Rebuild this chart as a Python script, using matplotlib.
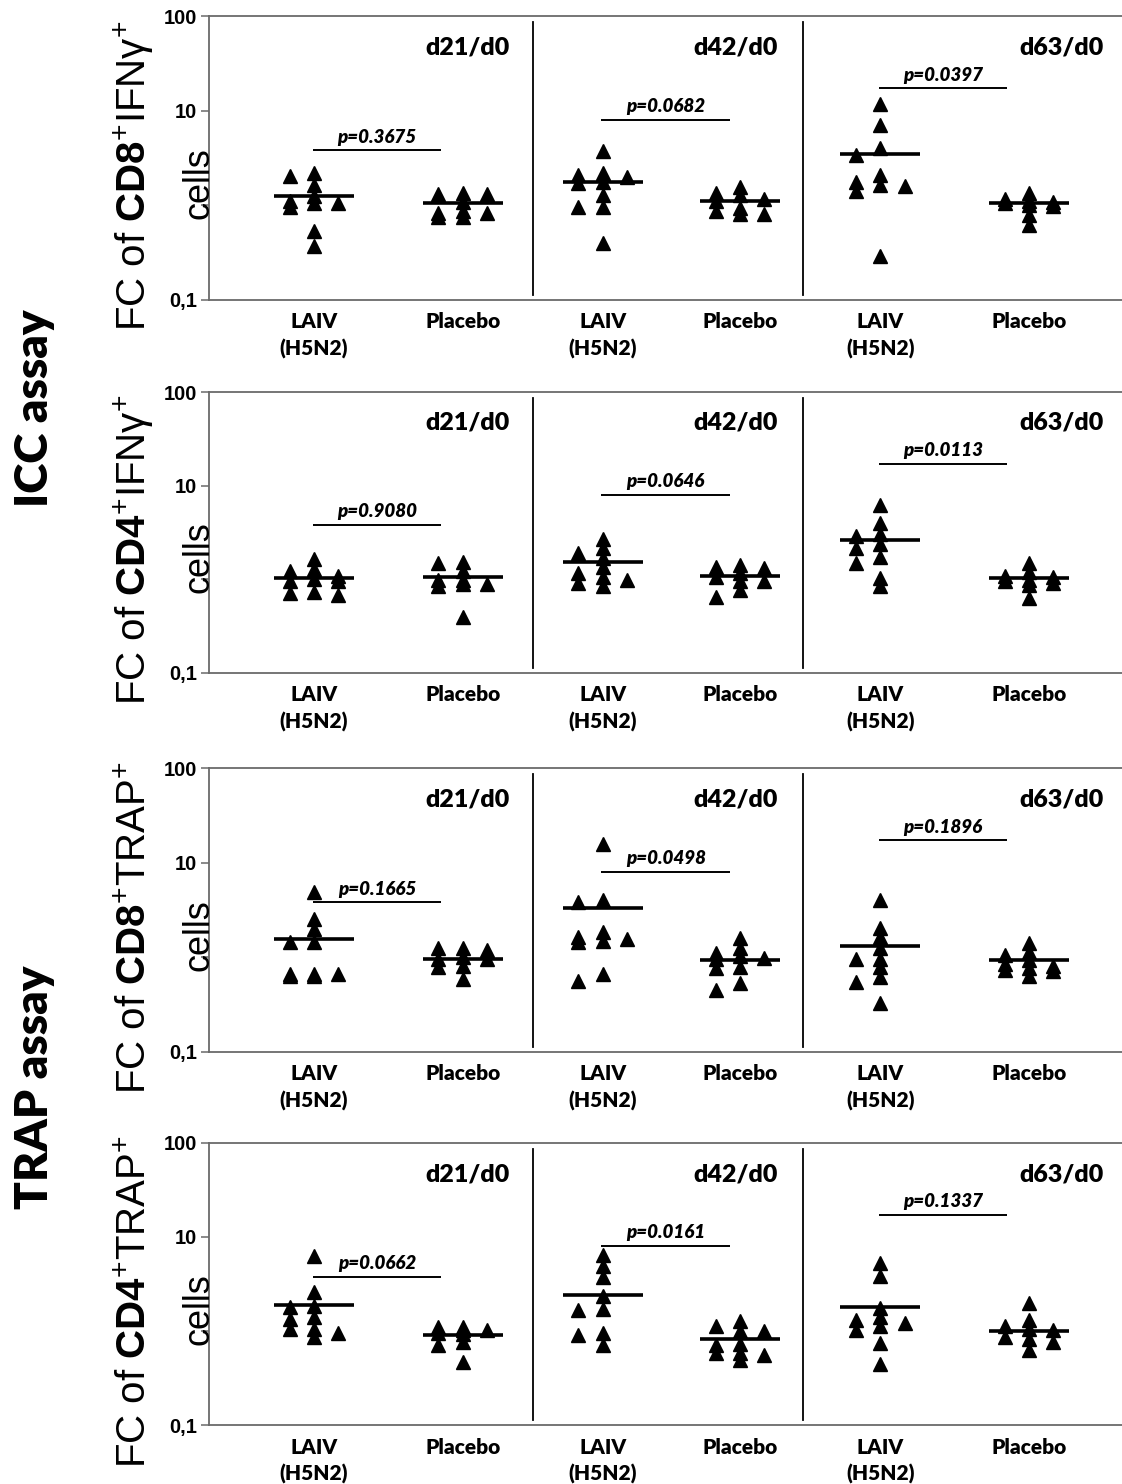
import numpy as np
import matplotlib
matplotlib.use("Agg")
import matplotlib.pyplot as plt
from matplotlib.ticker import NullLocator

plt.rcParams["mathtext.fontset"] = "custom"
plt.rcParams["mathtext.rm"] = "Liberation Sans"
plt.rcParams["mathtext.bf"] = "Liberation Sans:bold"
plt.rcParams["mathtext.it"] = "Liberation Sans:italic"

# ---- data (fold change) ----
GROUPS = ["LAIV\n(H5N2)", "Placebo"] * 3
SECTIONS = ["d21/d0", "d42/d0", "d63/d0"]

# order of groups: d21 LAIV, d21 Placebo, d42 LAIV, d42 Placebo, d63 LAIV, d63 Placebo
CD8_IFNG = [
    [2.21, 2.04, 1.64, 1.24, 1.11, 1.07, 1.05, 0.97, 0.53, 0.37],
    [1.34, 1.32, 1.31, 1.09, 0.88, 0.82, 0.82, 0.75, 0.75],
    [3.78, 2.21, 2.09, 2.01, 1.78, 1.71, 1.29, 0.95, 0.95, 0.40],
    [1.55, 1.34, 1.29, 1.16, 1.11, 0.93, 0.88, 0.81, 0.81],
    [11.9, 7.06, 4.0, 3.40, 2.09, 1.78, 1.64, 1.60, 1.43, 0.29],
    [1.36, 1.16, 1.12, 1.09, 1.06, 1.0, 0.98, 0.80, 0.62],
]
CD8_IFNG_MEAN = [1.24, 1.07, 1.78, 1.11, 3.48, 1.07]
CD8_IFNG_P = ["0.3675", "0.0682", "0.0397"]

CD4_IFNG = [
    [1.65, 1.28, 1.24, 1.09, 1.0, 0.95, 0.95, 0.73, 0.71, 0.68],
    [1.55, 1.49, 1.24, 0.99, 0.99, 0.90, 0.90, 0.84, 0.40],
    [2.67, 2.18, 1.90, 1.68, 1.35, 1.18, 1.07, 0.99, 0.92, 0.84],
    [1.43, 1.35, 1.31, 1.16, 1.05, 0.95, 0.95, 0.76, 0.65],
    [6.21, 4.03, 3.05, 2.90, 2.39, 2.18, 1.72, 1.49, 1.03, 0.84],
    [1.51, 1.21, 1.09, 1.07, 0.99, 0.95, 0.91, 0.87, 0.63],
]
CD4_IFNG_MEAN = [1.03, 1.05, 1.52, 1.09, 2.63, 1.03]
CD4_IFNG_P = ["0.9080", "0.0646", "0.0113"]

CD8_TRAP = [
    [4.86, 2.54, 1.99, 1.44, 1.44, 0.67, 0.67, 0.67, 0.64, 0.64],
    [1.24, 1.24, 1.19, 1.01, 0.97, 0.96, 0.81, 0.79, 0.59],
    [15.7, 4.04, 3.87, 1.86, 1.65, 1.58, 1.47, 1.44, 0.66, 0.56],
    [1.61, 1.26, 1.12, 1.03, 0.99, 0.97, 0.79, 0.77, 0.53, 0.45],
    [4.04, 2.06, 1.65, 1.26, 0.97, 0.97, 0.79, 0.62, 0.55, 0.33],
    [1.43, 1.13, 1.07, 0.93, 0.86, 0.81, 0.77, 0.74, 0.71, 0.64],
]
CD8_TRAP_MEAN = [1.58, 0.96, 3.29, 0.93, 1.32, 0.93]
CD8_TRAP_P = ["0.1665", "0.0498", "0.1896"]

CD4_TRAP = [
    [6.21, 2.59, 1.85, 1.82, 1.40, 1.33, 1.04, 1.04, 0.95, 0.87],
    [1.10, 1.10, 1.03, 1.03, 0.95, 0.93, 0.77, 0.71, 0.47],
    [6.47, 4.86, 3.80, 2.37, 1.71, 1.66, 0.95, 0.91, 0.71],
    [1.29, 1.12, 0.99, 0.99, 0.73, 0.71, 0.59, 0.59, 0.55, 0.49],
    [5.27, 3.87, 1.75, 1.40, 1.32, 1.23, 1.13, 1.03, 0.74, 0.45],
    [1.98, 1.31, 1.12, 1.04, 1.03, 0.87, 0.82, 0.77, 0.63],
]
CD4_TRAP_MEAN = [1.87, 0.91, 2.43, 0.82, 1.79, 1.01]
CD4_TRAP_P = ["0.0662", "0.0161", "0.1337"]

YLABELS = [
    r"FC of $\mathbf{CD8}^{+}$IFNγ$^{+}$",
    r"FC of $\mathbf{CD4}^{+}$IFNγ$^{+}$",
    r"FC of $\mathbf{CD8}^{+}$TRAP$^{+}$",
    r"FC of $\mathbf{CD4}^{+}$TRAP$^{+}$",
]

PANELS = [
    (YLABELS[0], CD8_IFNG, CD8_IFNG_MEAN, CD8_IFNG_P),
    (YLABELS[1], CD4_IFNG, CD4_IFNG_MEAN, CD4_IFNG_P),
    (YLABELS[2], CD8_TRAP, CD8_TRAP_MEAN, CD8_TRAP_P),
    (YLABELS[3], CD4_TRAP, CD4_TRAP_MEAN, CD4_TRAP_P),
]

# ---- layout ----
W, H = 1122, 1484
TOPS = [16, 392, 768, 1143]
BOTS = [300, 673, 1052, 1425]
LEFT = 209
X_POS = np.array([0, 1.04, 2.02, 2.98, 3.96, 5.0])
XLIM = (-0.734, 5.651)
SEPS = [1.53, 3.42]
SEC_X = [1.37, 3.245, 5.524]
P_LINE_Y = [3.8, 8.0, 17.2]
SWARM_STEP = 0.17
PX_DECADE = 94.3

TXT = "Lato"


def swarm(vals, step, gap=7.5):
    # centred scatter on 3 columns; if all columns are busy, take the
    # one with the most room (points may then stack like in the original)
    vals = np.asarray(vals, dtype=float)
    ys = np.log10(vals) * PX_DECADE
    offs = np.zeros(len(vals))
    placed = []
    slots = [0, -1, 1]
    for i in np.argsort(-vals, kind="stable"):
        room = []
        for s in slots:
            d = [abs(py - ys[i]) for ps, py in placed if ps == s]
            room.append(min(d) if d else np.inf)
        free = [s for s, r in zip(slots, room) if r >= gap]
        s = free[0] if free else slots[int(np.argmax(room))]
        placed.append((s, ys[i]))
        offs[i] = s * step
    return offs


fig = plt.figure(figsize=(W / 100, H / 100), dpi=100)

for (ylab, groups, means, pvals), top, bot in zip(PANELS, TOPS, BOTS):
    ax = fig.add_axes([LEFT / W, 1 - bot / H, 1 - LEFT / W, (bot - top) / H])
    ax.set_yscale("log")
    ax.set_ylim(0.1, 100)
    ax.set_xlim(*XLIM)

    for x, vals, m in zip(X_POS, groups, means):
        ax.plot(x + swarm(vals, SWARM_STEP), vals, "^", color="black",
                ms=9.5, mec="black", zorder=3)
        ax.hlines(m, x - 0.28, x + 0.28, color="black", lw=2.6, zorder=4)

    for k in range(3):
        xl = X_POS[2 * k]
        ax.hlines(P_LINE_Y[k], xl - 0.01, xl + 0.89, color="black", lw=1.4)
        ax.annotate(f"p={pvals[k]}", (xl + 0.44, P_LINE_Y[k]),
                    xytext=(0, 3.5), textcoords="offset points",
                    ha="center", va="bottom", fontsize=13.5,
                    family=TXT, weight="heavy", style="italic")
        ax.text(SEC_X[k], 0.89, SECTIONS[k], transform=ax.get_xaxis_transform(),
                ha="right", va="center", fontsize=18, family=TXT, weight="heavy")

    for s in SEPS:
        ax.axvline(s, ymin=0.018, ymax=0.979, color="black", lw=1.3)

    ax.spines["right"].set_visible(False)
    for sp in ("top", "bottom", "left"):
        ax.spines[sp].set_color("#6a6a6a")
        ax.spines[sp].set_linewidth(1.3)

    ax.set_yticks([0.1, 1, 10, 100])
    ax.set_yticklabels(["0,1", "", "10", "100"])
    ax.yaxis.set_minor_locator(NullLocator())
    ax.tick_params(axis="y", length=5.5, width=1.1, color="#6a6a6a", pad=3)
    for t in ax.get_yticklabels():
        t.set_fontfamily("Liberation Sans")
        t.set_fontweight("bold")
        t.set_fontsize(14.5)

    ax.set_xticks(X_POS)
    ax.set_xticklabels(GROUPS)
    ax.tick_params(axis="x", length=0, pad=9)
    for t in ax.get_xticklabels():
        t.set_fontfamily(TXT)
        t.set_fontweight("heavy")
        t.set_fontsize(15)
        t.set_linespacing(1.45)

    ax.text(-0.069, 0.437, ylab, transform=ax.transAxes, rotation=90,
            rotation_mode="anchor", ha="center", va="baseline",
            fontsize=29, family="Liberation Sans", clip_on=False)
    ax.text(-0.001, 0.412, "cells", transform=ax.transAxes, rotation=90,
            rotation_mode="anchor", ha="center", va="baseline",
            fontsize=26, family="Liberation Sans", clip_on=False)

fig.text(48 / W, 1 - 408 / H, "ICC assay", rotation=90, rotation_mode="anchor",
         ha="center", va="baseline", fontsize=33, family=TXT, weight="heavy")
fig.text(48 / W, 1 - 1087 / H, "TRAP assay", rotation=90, rotation_mode="anchor",
         ha="center", va="baseline", fontsize=33, family=TXT, weight="heavy")

fig.savefig("out.png", dpi=100, facecolor="white")
